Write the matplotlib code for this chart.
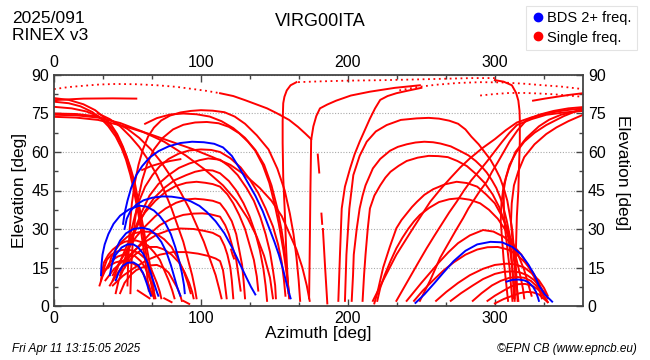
import matplotlib
matplotlib.use("Agg")
import matplotlib.pyplot as plt
from matplotlib.lines import Line2D

# --- data: satellite tracks as (azimuth, elevation) pairs ---
station = "VIRG00ITA"
doy_text = "2025/091"
rinex_text = "RINEX v3"
stamp = "Fri Apr 11 13:15:05 2025"
credit = "\u00a9EPN CB (www.epncb.eu)"
legend_labels = ["BDS 2+ freq.", "Single freq."]

bds_tracks = [
    [(47, 32), (48, 36), (50, 41), (52.5, 46), (56, 51), (60, 54.5), (65, 57.8), (71, 60.3), (78, 62.2), (86, 63.5),
     (94, 64), (102, 63.8), (109, 63.2), (115, 61.8), (121, 58.5), (127, 53), (132, 48), (137, 43), (142, 37),
     (146, 31), (150, 25), (153, 20), (156, 14), (159, 7), (161, 3)],
    [(48, 30), (49.5, 34), (52, 37), (56, 39.5), (61, 41.2), (67, 42.2), (74, 42.7), (80, 42.6), (87, 42), (93, 40.8),
     (99, 39), (104, 36.6), (110, 33), (116, 28.3), (121, 23), (126, 17), (131, 11), (134, 7.5), (137, 4.5)],
    [(32, 12), (32.3, 16), (33, 20), (34.5, 24), (37, 28), (40.5, 32), (45, 35.2), (51, 37.6), (58, 39.1), (63, 38.7),
     (68, 37.2), (72, 35), (76, 32), (79.5, 28), (82.5, 23), (85, 18), (87, 13), (88.5, 8), (89, 5)],
    [(40, 18), (42, 22), (45, 25.5), (49, 28.3), (54, 30), (60, 30.5), (65, 29.8), (69, 28), (73, 25), (76.5, 21),
     (79.5, 16), (82, 11), (84, 7), (86, 4)],
    [(38, 12), (39.5, 16.5), (42, 20), (46, 22.8), (50, 24), (54, 24), (57, 23), (60.5, 20.5), (63.5, 17), (66, 12.5),
     (68, 9), (70, 5.5), (71, 4)],
    [(42, 10), (44, 13), (46.5, 15.5), (50, 16.8), (54, 17), (57.5, 15.8), (60.5, 13), (63, 9), (65, 5.5), (66, 4)],
    [(246, 1.2), (252, 4.5), (259, 9), (265, 13), (272, 17.5), (280, 21.5), (288, 24), (297, 25), (305, 24.8),
     (312, 23), (318, 20), (323, 16), (327, 12), (330, 8), (334, 4.5), (339, 1.7)],
    [(308, 9.5), (312, 10.2), (316, 10.3), (320, 10), (323, 9.2), (326, 7.5), (328, 5.5), (329.5, 3), (330, 2)],
]

single_tracks = [
    # tracks entering from the left edge
    [(0, 80.2), (20, 80.8), (40, 80.9), (56, 80.8)],
    [(0, 81), (10, 80.3), (20, 78.6), (28, 76.3), (34, 73.5), (39, 70.5), (43, 67), (47, 62), (50, 57), (52.5, 52),
     (55, 45), (57.5, 38), (60, 30), (62, 23), (64, 15), (66, 9), (68, 3)],
    [(0, 79.6), (10, 79), (18, 77.8), (26, 75.6), (32, 73), (37, 70), (42, 66), (46, 61.5), (49, 57), (52, 51),
     (54, 46), (56, 40), (58, 34), (59.5, 28), (61, 22), (63, 14), (64.5, 6)],
    [(0, 77.6), (12, 77), (22, 75.8), (30, 74), (36, 71.5), (41, 68), (45, 64), (49, 59), (52, 54), (55, 48),
     (57, 42), (59, 36), (61, 30), (63, 23), (65, 17), (67, 10), (68, 6)],
    [(0, 75), (15, 74.8), (28, 74), (40, 72), (50, 69), (58, 65.5), (66, 61), (73, 56), (80, 50), (86, 44.5),
     (92, 38), (97, 31.5), (102, 25), (106, 18.5), (110, 12), (112.5, 6.5), (114, 3)],
    [(0, 73.7), (15, 73.4), (30, 72.5), (48, 70), (65, 67), (80, 64), (95, 61), (108, 58), (120, 55), (130, 51),
     (140, 46), (148, 41), (155, 35), (160, 28.5), (165, 22), (169, 15), (172, 8), (174, 2)],
    [(30, 75), (38, 72.8), (45, 70), (52, 66), (58, 62), (64, 57), (70, 51), (75, 45), (80, 38), (84, 31.5),
     (88, 25), (91, 18.5), (94, 12), (96, 6.5), (97, 3)],
    [(0, 74.5), (15, 74.3), (30, 73.4), (45, 71.3), (60, 68), (75, 64), (90, 58.5), (103, 53), (115, 47), (124, 41),
     (132, 34), (138, 27), (143, 19.5), (147, 11), (149, 3)],
    [(62, 71), (70, 73.2), (79, 74.6), (88, 75), (97, 74.7), (106, 73.8), (114, 72), (122, 69.3), (130, 65.5),
     (137, 60.8), (143, 55), (148, 47), (152, 38), (155, 29), (157.5, 19), (159, 10), (160, 3)],
    # solid continuation of the high pass from the left, ends in the cusp
    [(113, 82.9), (122, 81.8), (130, 80.2), (138, 78.5), (145, 77), (152, 75), (160, 72.5), (166, 69.8),
     (171, 67.2), (175, 65)],
    # arcs rising in the west cluster, setting in the middle
    [(50, 8), (50.5, 18), (51.5, 30), (53, 40), (55, 48), (57.5, 55), (60.5, 61), (64, 66), (68, 69.5), (73, 72.3),
     (79, 74.2), (86, 75.4), (93, 76), (100, 76.3), (108, 76.1), (116, 75.5), (123, 73.8), (130, 71), (138, 66.5),
     (146, 61), (152, 53.5), (157, 45), (160.5, 36), (163, 28), (165, 19), (166.5, 10), (167.5, 2)],
    [(52, 5), (52.5, 14), (53.5, 24), (55, 33), (57, 41), (60, 49), (63.5, 55.5), (68, 61), (74, 65.5), (81, 68.8),
     (88, 70.6), (96, 71.5), (104, 71.7), (112, 71.2), (119, 69.8), (126, 67.3), (132, 64), (137, 60.5), (142, 55),
     (146.5, 48), (150, 40), (153, 32), (156, 22), (158.5, 12), (160, 5)],
    [(50, 20), (52, 28), (55, 35), (58, 41), (62, 46.5), (67, 51), (72, 54.5), (78, 57.3), (85, 59.4), (92, 60.6),
     (100, 61), (107, 60.8), (113, 60), (120, 57.6), (127, 54), (133, 49.5), (139, 44), (144, 38), (149, 31),
     (152.5, 24), (155, 17), (156.5, 10), (157.5, 4)],
    [(48, 15), (51, 22), (55, 30), (60, 37), (65, 43), (71, 47.5), (78, 51), (85, 53.8), (92, 55.5), (99, 56.8),
     (105, 57.5), (113, 57), (119, 54.5), (125, 51), (131, 46), (136, 41), (140.5, 34.5), (144, 28), (147, 21),
     (149, 14), (150.5, 8), (151, 3)],
    [(45, 12), (48, 18), (52, 25), (57, 31.5), (62, 37), (68, 42), (75, 46), (82, 49), (90, 51), (96, 52.3),
     (102, 53), (108, 52.8), (113, 51.7), (119, 48.7), (124, 45), (129, 40), (133, 35), (137, 28.5), (140, 22),
     (142.5, 14.5), (144, 8), (145, 2)],
    [(40, 10), (44, 16), (50, 24), (56, 31), (62, 36.5), (69, 41), (76, 44.5), (83, 46.8), (90, 48), (97, 48.4),
     (103, 48), (108, 47.5), (113, 46.5), (118, 43.5), (122, 40), (126, 35.5), (130, 30), (133, 24), (136, 18),
     (138, 11.5), (139, 6)],
    [(40, 12), (45, 17.5), (50, 22), (56, 27), (62, 31), (69, 35), (76, 38), (83, 40.2), (90, 41.5), (96, 41.8),
     (102, 41.5), (108, 41), (113, 40), (117, 37), (121, 33), (124, 28), (126, 22), (128, 16), (129, 10), (130, 3)],
    [(38, 8), (44, 13.5), (50, 18), (57, 23), (65, 28), (72, 31.5), (80, 34), (88, 35.5), (95, 36), (101, 36.1),
     (106, 35.8), (113, 34.8), (116.5, 31.5), (119, 28), (121.5, 23), (124, 18), (125.5, 12), (127, 6)],
    [(35, 10), (41, 14.5), (48, 18), (55, 21.8), (62, 25), (70, 27.8), (78, 29.5), (86, 30.2), (95, 30), (102, 29.3),
     (108, 28.5), (113, 27), (116, 23.5), (118, 20), (120, 15), (121, 10), (122, 3)],
    [(40, 8), (47, 11.8), (55, 15), (63, 17.8), (72, 20), (81, 21), (90, 21), (98, 20.4), (105, 19.5), (110, 18.5),
     (113, 17.5), (115, 14), (116, 10), (117.5, 3)],
    [(60, 53), (66, 54.5), (72, 55.5), (79, 56.5), (86, 57.2)],
    # small arcs low in the west
    [(32, 10), (33, 14), (34, 17), (37, 20), (40, 22), (44, 23.8), (48, 25), (52, 25.5), (56, 25.5), (60, 24.8),
     (64, 23.5), (68, 21), (72, 18), (75, 14), (78, 10), (80.5, 6), (82, 3)],
    [(33, 12), (34.5, 15.5), (36, 18), (39, 20), (42, 21), (46, 21.8), (50, 22), (54, 21.5), (58, 20.5), (62, 18.5),
     (65, 16), (67.5, 12.5), (70, 9), (72, 5.5), (73, 3)],
    [(35, 14), (37.5, 16.5), (40, 18), (43.5, 19.3), (47, 20), (51, 20), (55, 19.5), (59, 17.5), (62, 15),
     (64.5, 11.5), (67, 8), (68, 5.5), (69, 3)],
    [(31, 8), (33, 11.5), (35, 14), (38.5, 16), (42, 17), (46, 17.6), (50, 17.5), (54, 16.5), (58, 15), (61, 12.3),
     (64, 9), (65.5, 6.5), (67, 4)],
    [(37, 15), (39, 19), (42, 22), (46, 25), (50, 27), (55, 28.4), (60, 29), (65, 28.9), (70, 28), (75, 26),
     (80, 23), (84, 18.8), (88, 14), (91, 9), (93, 5)],
    [(42, 5), (44, 10), (47, 14), (51, 17.5), (55, 20), (60, 22), (65, 23), (70, 23), (75, 22), (80, 20), (85, 17),
     (89, 13), (92, 9), (94, 5.5), (95, 3)],
    [(45, 5), (48, 9), (52, 12), (56, 14), (60, 15), (65, 15.8), (70, 16), (74, 15), (78, 13), (81, 10), (84, 7),
     (86, 4), (87, 2)],
    [(57, 6), (61, 4.5), (65, 3)],
    [(75, 3), (80, 1.5)],
    [(88, 2), (92, 0.8)],
    [(120.5, 22), (121.5, 20), (122.5, 18.5)],
    # near-zenith passes dropping in the middle
    [(165, 87.2), (161, 86), (158.4, 84), (156.8, 81.5), (156, 79), (155.6, 72), (155.6, 63.5), (156, 50),
     (157, 37.4), (158, 22), (159.5, 5)],
    [(249, 86), (232, 85), (215, 83.5), (202, 82), (192, 80), (186, 78.5), (181, 77), (178.5, 74), (176.5, 70),
     (175, 64.7), (174.5, 45), (174, 20), (173.6, 3)],
    [(179.5, 59), (180, 55.5), (180.5, 52)],
    [(182, 36), (182.5, 32)],
    [(183, 30), (184.5, 15), (186, 1)],
    # tracks rising in the south-west
    [(193.5, 2), (194.6, 20), (195.8, 38), (198, 46.5), (201.5, 53.6), (204.5, 59), (208, 64), (211.5, 68.5),
     (215, 73), (218.5, 77), (222, 80.3), (227, 81.8), (233, 82.9), (240, 83.8), (250, 85)],
    [(198, 2), (199, 20), (201, 38), (203.7, 51), (208, 58.5), (212.8, 64), (219, 68), (226.4, 70.5), (236, 72.5),
     (246.8, 73.1), (255, 73.3), (262, 73), (269, 72.2), (275, 71), (280, 68.8), (284, 66), (289, 63), (293, 60),
     (297, 57), (300, 54), (303.5, 50), (306, 46), (308.5, 41), (310, 36), (312, 29), (313, 22), (314.5, 14),
     (315, 8), (315.5, 2)],
    [(202.6, 2), (203.5, 12), (204, 20), (206, 30), (208, 38), (210, 43), (212, 47), (217, 53.6), (222, 57.3),
     (228.7, 60.5), (234, 62), (240, 63), (246, 63.7), (252, 64), (258, 63.8), (263, 63.3), (270, 62.2),
     (276, 60.5), (282, 58.7), (287, 56.5), (291, 54.3), (294.5, 52), (298, 49), (301, 46), (303.5, 42.5),
     (305.6, 39), (308, 33.5), (310, 28), (311.2, 21), (312, 14), (312.6, 8), (313, 3)],
    [(210, 2), (211, 12), (212, 20), (213.5, 30), (215, 38), (218, 43), (222, 47), (225.5, 50), (229, 52.3),
     (234.5, 54.6), (240, 56.5), (247.5, 57.8), (255, 58.5), (261.5, 58.4), (268, 58), (274.5, 56.5), (281, 54.5),
     (287, 51.5), (293, 48), (298.5, 43.5), (303, 38.5), (306.5, 33), (309, 27), (310.7, 20.5), (312, 14),
     (313, 8), (313.5, 3)],
    [(218, 1), (220, 5), (222, 10), (224, 15), (228.5, 23), (233, 30.3), (236.5, 33.5), (240, 36), (243.5, 38.5),
     (247, 40.6), (252, 43.3), (258, 45.5), (266, 47.4), (274, 48.4), (281, 47.9), (288, 46.5), (294, 43.5),
     (300, 40), (304, 35.8), (308, 31), (311, 25.5), (314, 20), (316, 15), (318, 10), (319.2, 6.5), (320, 3)],
    [(220, 2), (221, 4.5), (222, 7), (225, 12), (229, 17.5), (233, 22.5), (237, 26.5), (241, 30), (245, 33),
     (249, 35.5), (255.5, 38.3), (262, 40.5), (269, 41.6), (276, 42), (283, 41.4), (290, 40), (296, 37.5),
     (302, 34), (307, 29.8), (312, 25), (316, 19.8), (320, 14), (322.5, 9), (325, 4)],
    [(240, 2), (245, 5.5), (250, 9), (256, 13), (262, 17), (268.5, 21), (275, 24.5), (283, 27.5), (292, 29.6),
     (299, 29), (306, 27), (312, 24), (318, 20), (322.5, 15.8), (327, 11), (330, 7), (332, 3)],
    [(217, 2), (220.5, 6), (224, 10), (228.5, 15), (233, 20), (238.5, 25), (244, 30), (250, 35.3), (256, 40.6),
     (263, 45.5), (270, 50), (276.5, 54), (283, 57.5), (291.5, 61.5), (300, 65), (307.5, 68.5), (315, 71.5),
     (325, 73.5), (335, 75), (347, 76.2), (360, 77)],
    [(233, 2), (238, 7), (243, 12), (248, 17), (253.6, 22.5), (259, 27.5), (264, 32), (269, 36.5), (274, 40.6),
     (279, 45), (284, 49), (289.5, 52.7), (294.5, 56.2), (300, 60.3), (305, 64), (310, 67.5), (315, 70.5),
     (325, 72.8), (335, 74.5), (347, 75.4), (360, 76)],
    [(249, 2), (252.5, 6), (256, 10), (259.5, 14.5), (262.7, 18.7), (266.5, 22.5), (270, 26), (274, 30),
     (278.5, 34.3), (282, 38), (286, 41.5), (290, 45), (294.5, 48.4), (298, 52.2), (302, 56), (306, 60),
     (310, 64), (315.5, 68.5), (321.7, 72.5), (330, 74.5), (340, 76), (350, 77), (360, 77.5)],
    # low arcs in the north-west
    [(245, 2), (251, 6), (258, 10), (265, 13.8), (272, 17), (280, 20), (288, 22), (295, 22.9), (302, 23),
     (309, 22), (315, 20), (320.5, 17), (326, 13), (330, 9), (333, 5)],
    [(260, 2), (267, 5.5), (275, 9), (283, 12), (292, 14.5), (300, 16), (308, 16.5), (314, 16.2), (320, 15),
     (325, 12.8), (330, 10), (333.5, 7), (336, 4)],
    [(270, 2), (277, 5), (285, 8), (292, 10.5), (300, 12.5), (306, 13.3), (312, 13.5), (317, 13.1), (322, 12),
     (326.5, 10.2), (330, 8), (333.5, 5.5), (336, 3)],
    [(285, 2), (291, 5), (298, 8), (304, 9.8), (310, 11), (315, 11.3), (320, 11), (324.5, 9.8), (328, 8),
     (331.5, 5.5), (334, 3)],
    [(295, 2), (300, 4), (306, 6), (311, 7.6), (316, 8.5), (320.5, 8.6), (325, 8), (329, 6.6), (332, 5),
     (334.5, 3), (336, 1.5)],
    [(300, 1), (306, 2.7), (312, 4), (317, 5), (322, 5.5), (326, 5.3), (330, 4.5), (333, 3), (336, 1.5)],
    # tracks rising in the north-west towards the north
    [(300, 88), (306, 87.4), (311.6, 86), (314.5, 83), (316, 80), (316.8, 76), (317, 72.5), (317, 64),
     (316.5, 55), (316, 45), (315, 35), (314.5, 25), (314, 15), (313.5, 2)],
    [(312, 2), (311, 8), (310, 15), (308.5, 22.5), (307, 30), (306.2, 37.5), (306, 45), (307.5, 50), (310, 55),
     (314.5, 59.8), (320, 64), (327, 67.5), (335, 70.5), (347, 74), (360, 77)],
    [(316, 2), (314.5, 10), (313, 18), (312, 25.5), (311, 33), (311.5, 40), (313, 47), (316, 52.5), (320, 58),
     (327, 63), (335, 67), (342, 69.6), (350, 72), (360, 74.5)],
    [(309, 2), (307.5, 10), (306, 18), (305, 25.5), (304, 33), (304.5, 40), (306, 47), (309.5, 53.5), (314, 60),
     (321.5, 65.5), (330, 70), (337, 72.6), (345, 74.5), (360, 76.5)],
    [(326, 80), (334, 80.8), (342, 81.5), (350, 82.2), (360, 82.9)],
]

single_dotted = [
    [(0, 84.5), (10, 85.3), (20, 85.8), (31, 86.3), (42, 86.5), (56, 86.4), (70, 86), (83, 85.4), (95, 84.5),
     (104, 83.8), (113, 82.9)],
    [(300, 88.8), (285, 88.8), (270, 88.6), (249, 88.3), (225, 88), (200, 87.8), (180, 87.5), (165, 87.2)],
    [(235, 84), (247, 85.3), (260, 86.2), (275, 86.9), (290, 87.2), (305, 87.1), (320, 86.6), (333, 86),
     (345, 85.5), (360, 84.5)],
    [(290, 82), (300, 82.6), (310, 83), (320, 83), (330, 82.8), (340, 82.5), (350, 82), (360, 81.5)],
]

RED = "#ff0000"
BLUE = "#0000ff"

plt.rcParams["font.family"] = ["Liberation Sans", "DejaVu Sans"]

fig = plt.figure(figsize=(6.5, 3.6), dpi=100)
ax = fig.add_axes([54 / 650, 1 - 306 / 360, 529 / 650, 231 / 360])

for trk in single_tracks:
    az, el = zip(*trk)
    ax.plot(az, el, color=RED, lw=1.4, solid_joinstyle="round")
for trk in single_dotted:
    az, el = zip(*trk)
    ax.plot(az, el, color=RED, lw=1.3, linestyle=(0, (1, 2)))
for trk in bds_tracks:
    az, el = zip(*trk)
    ax.plot(az, el, color=BLUE, lw=1.4, solid_joinstyle="round")

ax.set_xlim(0, 360)
ax.set_ylim(0, 90)
ax.set_xticks([0, 100, 200, 300])
ax.set_xticks([100 / 3 * i for i in range(11) if i % 3], minor=True)
ax.set_yticks(range(0, 91, 15))
ax.set_yticks([7.5 + 15 * i for i in range(6)], minor=True)
ax.tick_params(which="both", direction="in", top=True, right=True,
               labeltop=True, labelright=True, labelsize=11.5, color="#444444")
ax.tick_params(which="major", length=5, width=1)
ax.tick_params(which="minor", length=3, width=1)
ax.grid(axis="y", which="major", color="#aaaaaa", linestyle=(0, (1, 1.5)), lw=0.8)
for sp in ax.spines.values():
    sp.set_color("#444444")
    sp.set_linewidth(1.3)

ax.set_xlabel("Azimuth [deg]", fontsize=12.5, labelpad=0)
ax.set_ylabel("Elevation [deg]", fontsize=12.5, labelpad=3)
fig.text(0.958, 0.52, "Elevation [deg]", rotation=270, fontsize=12.5,
         ha="center", va="center")

fig.text(12 / 650, 1 - 23 / 360, doy_text, fontsize=12.5, ha="left", va="baseline")
fig.text(12 / 650, 1 - 40 / 360, rinex_text, fontsize=12.5, ha="left", va="baseline")
fig.text(320 / 650, 1 - 26 / 360, station, fontsize=13, ha="center", va="baseline")
fig.text(12 / 650, 1 - 352 / 360, stamp, fontsize=8.5, style="italic", ha="left")
fig.text(637 / 650, 1 - 352 / 360, credit, fontsize=8.5, style="italic", ha="right")

handles = [Line2D([], [], marker="o", color="none", markerfacecolor=c,
                  markeredgecolor=c, markersize=6) for c in (BLUE, RED)]
leg = fig.legend(handles, legend_labels, loc="upper right",
                 bbox_to_anchor=(644 / 650, 1 + 1 / 360), fontsize=10.5,
                 frameon=True, fancybox=False, handletextpad=0.1,
                 handlelength=1.0, borderpad=0.35, labelspacing=0.35)
leg.get_frame().set_edgecolor("#dddddd")
leg.get_frame().set_linewidth(0.8)

fig.savefig("out.png", dpi=100)
